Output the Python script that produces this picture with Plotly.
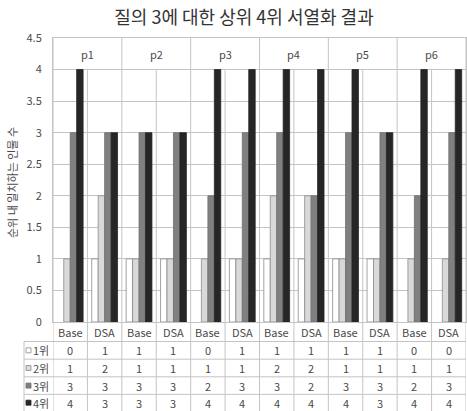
import plotly.graph_objects as go

# Labels
title_text = "질의 3에 대한 상위 4위 서열화 결과"
y_title = "순위 내 일치하는 인물 수"
people = ["p1", "p2", "p3", "p4", "p5", "p6"]
methods = ["Base", "DSA"]
series_names = ["1위", "2위", "3위", "4위"]

# Number of matching people within each rank cut-off (Base / DSA per person)
rank1 = [0, 1, 1, 1, 0, 1, 1, 1, 1, 1, 0, 0]
rank2 = [1, 2, 1, 1, 1, 1, 2, 2, 1, 1, 1, 1]
rank3 = [3, 3, 3, 3, 2, 3, 3, 2, 3, 3, 2, 3]
rank4 = [4, 3, 3, 3, 4, 4, 4, 4, 4, 3, 4, 4]

series_values = [rank1, rank2, rank3, rank4]
series_colors = ["#FFFFFF", "#D9D9D9", "#808080", "#262626"]
line_colors = ["#8C8C8C", "#8C8C8C", "#6E6E6E", "#262626"]

W, H = 467, 411
ML, MR, MT, MB = 53, 1, 38, 89
PW = W - ML - MR
PH = H - MT - MB

FONT = "Noto Sans CJK KR"
TXT = "#4A4A4A"
GRID = "#C4C4C4"

columns = [(p, m) for p in people for m in methods]
xpos = list(range(len(columns)))


def px_to_paper_x(px):
    return (px - ML) / PW


def px_to_paper_y(py):
    return (H - MB - py) / PH


def label(x, y, text, xref, yref, xanchor="center", size=11, angle=0):
    return dict(x=x, y=y, xref=xref, yref=yref, text=text, showarrow=False,
                xanchor=xanchor, yanchor="middle", textangle=angle,
                font=dict(family=FONT, size=size, color=TXT))


fig = go.Figure()
for name, vals, col, lc in zip(series_names, series_values, series_colors, line_colors):
    # zero-height bars get no outline so they stay invisible
    widths = [0.8 if v > 0 else 0 for v in vals]
    fig.add_trace(go.Bar(
        x=xpos, y=vals, name=name,
        marker=dict(color=col, line=dict(color=lc, width=widths)),
        showlegend=False,
    ))

shapes = []
annotations = []

# table row boundaries (pixels)
row_edges_px = [H - MB, 341.5, 359.2, 376.8, 394.4, 411]
row_edges = [px_to_paper_y(v) for v in row_edges_px]
bottom = row_edges[-1]
left_col_x = px_to_paper_x(24)

# vertical separators: group lines run full height, inner lines start at y=4
n = len(columns)
for k in range(n + 1):
    xv = k - 0.5
    if k % 2 == 0:
        shapes.append(dict(type="line", xref="x", yref="paper", x0=xv, x1=xv,
                           y0=bottom, y1=1, line=dict(color=GRID, width=1), layer="below"))
    else:
        shapes.append(dict(type="line", xref="x", yref="y", x0=xv, x1=xv,
                           y0=0, y1=4, line=dict(color=GRID, width=1), layer="below"))
        shapes.append(dict(type="line", xref="x", yref="paper", x0=xv, x1=xv,
                           y0=bottom, y1=0, line=dict(color=GRID, width=1), layer="below"))

# horizontal table lines
for yv in row_edges[1:5]:
    shapes.append(dict(type="line", xref="paper", yref="paper", x0=left_col_x, x1=1,
                       y0=yv, y1=yv, line=dict(color=GRID, width=1)))
shapes.append(dict(type="line", xref="paper", yref="paper", x0=left_col_x, x1=left_col_x,
                   y0=bottom, y1=row_edges[1], line=dict(color=GRID, width=1)))

# group labels in the top band
for gi, p in enumerate(people):
    annotations.append(label(gi * 2 + 0.5, 4.25, p, "x", "y"))

# method header row
hdr_y = (row_edges[0] + row_edges[1]) / 2
for i, (p, m) in enumerate(columns):
    annotations.append(label(i, hdr_y, m, "x", "paper"))

# value rows with legend keys
for r, (name, vals, col, lc) in enumerate(zip(series_names, series_values, series_colors, line_colors)):
    yc = (row_edges[r + 1] + row_edges[r + 2]) / 2
    for i, v in enumerate(vals):
        annotations.append(label(i, yc, str(v), "x", "paper"))
    shapes.append(dict(type="rect", xref="paper", yref="paper",
                       xsizemode="pixel", ysizemode="pixel",
                       xanchor=px_to_paper_x(28.5), yanchor=yc,
                       x0=-2.5, x1=2.5, y0=-2.5, y1=2.5,
                       fillcolor=col, line=dict(color=lc, width=0.8)))
    annotations.append(label(px_to_paper_x(31), yc, name, "paper", "paper", xanchor="left"))

# y axis title
annotations.append(label(px_to_paper_x(12), px_to_paper_y(183), y_title, "paper", "paper", angle=-90))

fig.update_layout(
    width=W, height=H,
    margin=dict(l=ML, r=MR, t=MT, b=MB, pad=0),
    paper_bgcolor="white", plot_bgcolor="white",
    barmode="group", bargap=0.25, bargroupgap=0,
    title=dict(text=title_text, x=244 / W, xref="container", xanchor="center",
               y=1 - 18 / H, yref="container", yanchor="middle",
               font=dict(family=FONT, size=18, color="#333333")),
    xaxis=dict(range=[-0.5, n - 0.5], showticklabels=False, showgrid=False,
               zeroline=False, showline=True, linecolor=GRID, mirror=True, ticks=""),
    yaxis=dict(range=[0, 4.5], dtick=0.5, tick0=0, showgrid=True, gridcolor=GRID,
               zeroline=False, showline=True, linecolor=GRID, mirror=True,
               ticks="", ticklabelstandoff=8,
               tickfont=dict(family=FONT, size=11, color=TXT)),
    shapes=shapes,
    annotations=annotations,
)

fig.write_html("out.html")
